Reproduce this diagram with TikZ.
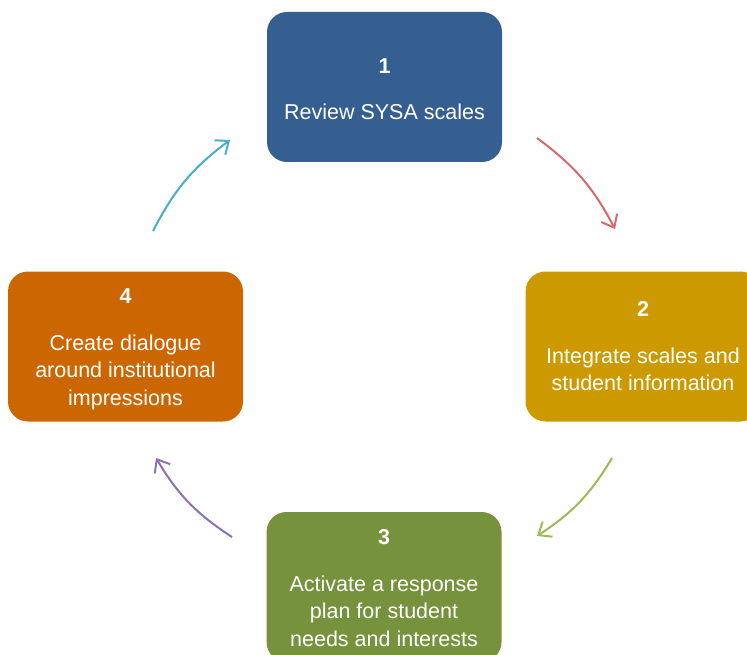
\documentclass[tikz,border=0pt]{standalone}
\usepackage{fontspec}
\setmainfont{Liberation Sans}
\usetikzlibrary{arrows.meta}
\definecolor{stageblue}{HTML}{365F91}
\definecolor{stagegold}{HTML}{CC9900}
\definecolor{stagegreen}{HTML}{76923C}
\definecolor{stageorange}{HTML}{CC6600}
\definecolor{arrowred}{HTML}{D8686A}
\definecolor{arrowgreen}{HTML}{9BBB59}
\definecolor{arrowpurple}{HTML}{8C70B0}
\definecolor{arrowblue}{HTML}{4BACC6}
\begin{document}
\begin{tikzpicture}[x=1pt,y=1pt,
  stagebox/.style={rounded corners=20pt, minimum width=235pt, minimum height=150pt, inner sep=0pt, draw=none},
  stagetext/.style={text=white, align=center, inner sep=0pt, font=\fontsize{21.5}{27.5}\selectfont},
  cyclearrow/.style={line width=2pt, -{Straight Barb[length=11pt,width=18pt]}, bend left=13}]
\useasboundingbox (0,0) rectangle (747,-655);
\clip (0,0) rectangle (747,-655);

% the four stages of the cycle
\node[stagebox, fill=stageblue]   (b1) at (384.5,-87)  {};
\node[stagebox, fill=stagegold]   (b2) at (643,-346.5) {};
\node[stagebox, fill=stagegreen]  (b3) at (384,-587)   {};
\node[stagebox, fill=stageorange] (b4) at (125.5,-346.5) {};

\node[stagetext] (t1) at ([yshift=-2pt]b1.center) {{\bfseries 1}\\[19pt]Review SYSA scales};
\node[stagetext] (t2) at (b2.center) {{\bfseries 2}\\[19pt]Integrate scales and\\student information};
\node[stagetext] (t3) at ([yshift=-1pt]b3.center) {{\bfseries 3}\\[19pt]Activate a response\\plan for student\\needs and interests};
\node[stagetext] (t4) at ([yshift=-3pt]b4.center) {{\bfseries 4}\\[19pt]Create dialogue\\around institutional\\impressions};

% ends of the curved arrows between the stages
\coordinate (r1) at (537,-138);
\coordinate (r2) at (615,-229);
\coordinate (g1) at (612,-458);
\coordinate (g2) at (537,-536);
\coordinate (p1) at (232,-537);
\coordinate (p2) at (156,-458);
\coordinate (c1) at (153,-231);
\coordinate (c2) at (230,-140);

\draw[cyclearrow, arrowred]    (r1) to (r2);
\draw[cyclearrow, arrowgreen]  (g1) to (g2);
\draw[cyclearrow, arrowpurple] (p1) to (p2);
\draw[cyclearrow, arrowblue]   (c1) to (c2);
\end{tikzpicture}
\end{document}
